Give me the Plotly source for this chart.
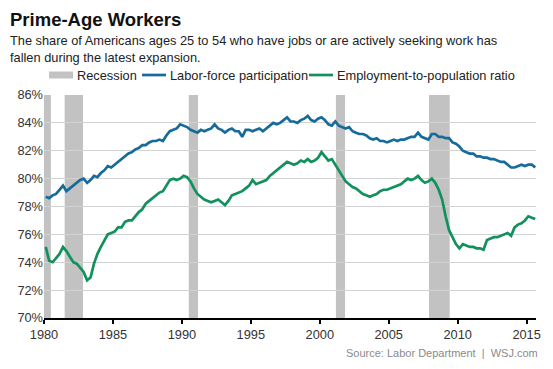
import plotly.graph_objects as go

# Quarterly readings, 1980 Q1 .. 2015 Q3 (percent)
start_year = 1980
labor_force = [
    78.7, 78.6, 78.8, 78.9,
    79.2, 79.5, 79.1, 79.3,
    79.5, 79.7, 79.9, 80.0,
    79.7, 79.9, 80.2, 80.1,
    80.4, 80.6, 80.9, 80.8,
    81.0, 81.2, 81.4, 81.6,
    81.8, 81.9, 82.1, 82.2,
    82.4, 82.4, 82.6, 82.7,
    82.7, 82.8, 82.7, 83.1,
    83.4, 83.5, 83.6, 83.9,
    83.8, 83.7, 83.5, 83.4,
    83.3, 83.5, 83.4, 83.5,
    83.6, 83.9, 83.6, 83.5,
    83.3, 83.5, 83.6, 83.4,
    83.4, 83.0, 83.5, 83.5,
    83.4, 83.5, 83.6, 83.4,
    83.6, 83.8, 84.0, 83.9,
    84.0, 84.2, 84.4, 84.1,
    84.1, 84.0, 84.2, 84.3,
    84.5, 84.2, 84.1, 84.3,
    84.4, 84.2, 83.9, 83.8,
    84.1, 83.8, 83.7, 83.6,
    83.7, 83.4, 83.3, 83.2,
    83.2, 83.1, 82.9, 82.8,
    82.9, 82.7, 82.7, 82.6,
    82.7, 82.8, 82.7, 82.8,
    82.8, 82.9, 83.0, 83.0,
    83.3, 83.0, 82.9, 82.8,
    83.2, 83.2, 83.0, 83.0,
    82.9, 82.9, 82.6, 82.5,
    82.3, 82.0, 81.9, 81.8,
    81.8, 81.6, 81.6, 81.5,
    81.5, 81.4, 81.4, 81.3,
    81.2, 81.2, 81.0, 80.8,
    80.8, 80.9, 81.0, 80.9,
    81.0, 81.0, 80.8,
]
emp_pop = [
    75.1, 74.1, 74.0, 74.3,
    74.6, 75.1, 74.8, 74.4,
    74.0, 73.9, 73.6, 73.3,
    72.7, 72.9, 73.9, 74.6,
    75.1, 75.6, 76.0, 76.1,
    76.2, 76.5, 76.5, 76.9,
    77.0, 77.0, 77.3, 77.6,
    77.8, 78.2, 78.4, 78.6,
    78.8, 79.0, 79.1, 79.5,
    79.9, 80.0, 79.9, 80.0,
    80.2, 80.1, 79.8, 79.3,
    78.9, 78.7, 78.5, 78.4,
    78.3, 78.4, 78.5, 78.3,
    78.1, 78.4, 78.8, 78.9,
    79.0, 79.1, 79.3, 79.5,
    79.9, 79.6, 79.7, 79.8,
    79.9, 80.2, 80.4, 80.6,
    80.8, 81.0, 81.2, 81.1,
    81.0, 81.1, 81.3, 81.2,
    81.4, 81.2, 81.3, 81.5,
    81.9, 81.6, 81.3, 81.4,
    81.0, 80.6, 80.2, 79.8,
    79.6, 79.4, 79.3, 79.1,
    78.9, 78.8, 78.7, 78.8,
    78.9, 79.1, 79.2, 79.2,
    79.3, 79.4, 79.5, 79.6,
    79.8, 80.0, 79.9, 80.0,
    80.2, 79.9, 79.7, 79.8,
    80.0, 79.7, 79.2, 78.5,
    77.3, 76.3, 75.8, 75.3,
    75.0, 75.3, 75.2, 75.1,
    75.1, 75.0, 75.0, 74.9,
    75.6, 75.7, 75.8, 75.8,
    75.9, 76.0, 76.1, 75.9,
    76.5, 76.7, 76.8, 77.0,
    77.3, 77.2, 77.1,
]
recession_start = [1980.0, 1981.5, 1990.5, 2001.17, 2007.92]
recession_end = [1980.5, 1982.83, 1991.17, 2001.83, 2009.42]
x_ticks = [1980, 1985, 1990, 1995, 2000, 2005, 2010, 2015]
y_ticks = [70, 72, 74, 76, 78, 80, 82, 84, 86]
y_tick_labels = ["70%", "72%", "74%", "76%", "78%", "80%", "82%", "84%", "86%"]
legend_labels = ["Recession", "Labor-force participation", "Employment-to-population ratio"]

quarters = [start_year + (i * 3 + 1.5) / 12 for i in range(len(labor_force))]

FONT = "Arial, Liberation Sans, sans-serif"
BLUE = "#176b9c"
GREEN = "#12915d"
GREY = "#c2c2c2"
W, H = 553, 369
L, T, PW, PH = 44, 95, 492, 223

fig = go.Figure()
fig.add_trace(go.Scatter(x=quarters, y=labor_force, mode="lines",
                         name=legend_labels[1],
                         line=dict(color=BLUE, width=2.7)))
fig.add_trace(go.Scatter(x=quarters, y=emp_pop, mode="lines",
                         name=legend_labels[2],
                         line=dict(color=GREEN, width=2.7)))

for s, e in zip(recession_start, recession_end):
    fig.add_shape(type="rect", xref="x", yref="y", x0=s, x1=e, y0=70, y1=86,
                  fillcolor=GREY, line_width=0, layer="below")

def fx(xp):
    return (xp - L) / PW
def fy(yp):
    return 1 + (T - yp) / PH

legend_y = 75
swatches = [(49, 73, GREY, "rect"), (142, 166, BLUE, "line"), (309, 333, GREEN, "line")]
annotations = []
for (x0, x1, col, kind), label in zip(swatches, legend_labels):
    if kind == "rect":
        fig.add_shape(type="rect", xref="paper", yref="paper",
                      x0=fx(x0), x1=fx(x1), y0=fy(legend_y + 3.5), y1=fy(legend_y - 3.5),
                      fillcolor=col, line_width=0)
    else:
        fig.add_shape(type="line", xref="paper", yref="paper",
                      x0=fx(x0), x1=fx(x1), y0=fy(legend_y), y1=fy(legend_y),
                      line=dict(color=col, width=2.7))
    annotations.append(dict(text=label, xref="paper", yref="paper",
                            x=fx(x1 + 2), y=fy(legend_y),
                            xanchor="left", yanchor="middle", showarrow=False,
                            font=dict(size=12.8, color="#222222")))

annotations += [
    dict(text="<b>Prime-Age Workers</b>", xref="paper", yref="paper",
         x=fx(8), y=fy(20), xanchor="left", yanchor="middle",
         showarrow=False, font=dict(size=18.5, color="#111111")),
    dict(text="The share of Americans ages 25 to 54 who have jobs or are actively seeking work has<br>fallen during the latest expansion.",
         xref="paper", yref="paper", x=fx(8), y=fy(49),
         xanchor="left", yanchor="middle", align="left", showarrow=False,
         font=dict(size=12.8, color="#222222")),
    dict(text="Source: Labor Department  |  WSJ.com", xref="paper", yref="paper",
         x=fx(540), y=fy(353), xanchor="right", yanchor="middle",
         showarrow=False, font=dict(size=11, color="#8a8a8a")),
]

fig.update_layout(
    width=W, height=H,
    margin=dict(l=L, r=W - L - PW, t=T, b=H - T - PH, autoexpand=False),
    paper_bgcolor="white", plot_bgcolor="white",
    font=dict(family=FONT, size=12, color="#333333"),
    showlegend=False,
    hovermode=False,
    xaxis=dict(range=[1980, 2015.68], tickvals=x_ticks,
               showgrid=False, zeroline=False, automargin=False,
               showline=True, linecolor="black", linewidth=2,
               ticks="outside", ticklen=4, tickcolor="black", tickwidth=1.5,
               tickfont=dict(size=12.8, color="#333333")),
    yaxis=dict(range=[70, 86], tickvals=y_ticks, ticktext=y_tick_labels,
               showgrid=True, gridcolor="#d2d2d2", gridwidth=1.3,
               zeroline=False, showline=False, ticks="", automargin=False,
               tickfont=dict(size=12.8, color="#333333")),
    annotations=annotations,
)

fig.write_html("out.html", config={"displayModeBar": False},
               post_script="document.body.style.margin='0';document.body.style.overflow='hidden';")
